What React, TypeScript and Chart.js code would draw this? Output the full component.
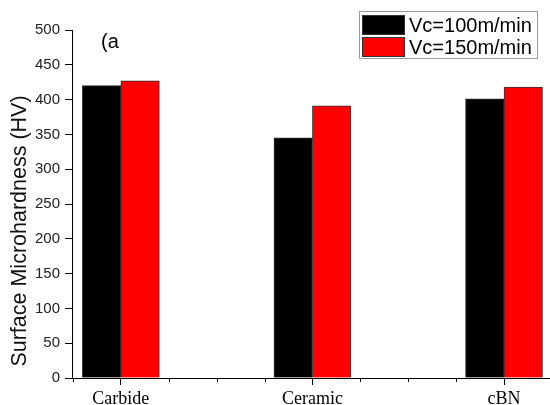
import React, { useEffect, useRef } from "react";
import { Chart, registerables } from "chart.js";

Chart.register(...registerables);

const categories = ["Carbide", "Ceramic", "cBN"];
const categoryPositions = [1, 2, 3];
const vc100 = [420, 345, 401];
const vc150 = [427, 391, 418];
const seriesLabels = ["Vc=100m/min", "Vc=150m/min"];
const seriesColors = ["#000000", "#ff0000"];
const yAxisTitle = "Surface Microhardness (HV)";
const panelLabel = "(a";

const SANS = "'Liberation Sans', Arial, sans-serif";
const SERIF = "'Liberation Serif', 'Times New Roman', serif";

const decorPlugin = {
  id: "decor",
  afterDraw(chart: any) {
    const ctx = chart.ctx;
    const xs = chart.scales.x;
    const ys = chart.scales.y;
    const area = chart.chartArea;
    ctx.save();
    // minor ticks
    ctx.strokeStyle = "#000";
    ctx.lineWidth = 1;
    ys.ticks.forEach((t: any) => {
      if (t.value % 50 !== 0) {
        const py = Math.round(ys.getPixelForValue(t.value)) + 0.5;
        ctx.beginPath();
        ctx.moveTo(area.left - 4, py);
        ctx.lineTo(area.left, py);
        ctx.stroke();
      }
    });
    xs.ticks.forEach((t: any) => {
      if (!Number.isInteger(t.value)) {
        const px = Math.round(xs.getPixelForValue(t.value)) + 0.5;
        ctx.beginPath();
        ctx.moveTo(px, area.bottom);
        ctx.lineTo(px, area.bottom + 4);
        ctx.stroke();
      }
    });
    // y axis title
    ctx.save();
    ctx.translate(20, 231);
    ctx.rotate(-Math.PI / 2);
    ctx.font = `21.5px ${SANS}`;
    ctx.fillStyle = "#111";
    ctx.textAlign = "center";
    ctx.textBaseline = "middle";
    ctx.fillText(yAxisTitle, 0, 0);
    ctx.restore();
    // panel label
    ctx.font = `20px ${SANS}`;
    ctx.fillStyle = "#000";
    ctx.textAlign = "left";
    ctx.textBaseline = "alphabetic";
    ctx.fillText(panelLabel, 101, 48);
    // legend
    const bx = 359.5, by = 11.5, bw = 178, bh = 47;
    ctx.fillStyle = "#fff";
    ctx.fillRect(bx, by, bw, bh);
    ctx.strokeStyle = "#999";
    ctx.strokeRect(bx, by, bw, bh);
    chart.data.datasets.forEach((ds: any, i: number) => {
      const sy = 15 + i * 22;
      ctx.fillStyle = ds.backgroundColor;
      ctx.fillRect(362, sy, 43, 20);
      ctx.strokeStyle = "#333";
      ctx.strokeRect(362.5, sy + 0.5, 42, 19);
      ctx.fillStyle = "#000";
      ctx.font = `20px ${SANS}`;
      ctx.textAlign = "left";
      ctx.textBaseline = "middle";
      ctx.fillText(ds.label, 409, sy + 11);
    });
    ctx.restore();
  },
};

export default function App() {
  const ref = useRef<HTMLCanvasElement | null>(null);
  useEffect(() => {
    if (!ref.current) return;
    const chart = new Chart(ref.current, {
      type: "bar",
      data: {
        datasets: [vc100, vc150].map((vals, si) => ({
          label: seriesLabels[si],
          data: vals.map((v, i) => ({ x: categoryPositions[i], y: v })),
          backgroundColor: seriesColors[si],
          borderColor: "#333",
          borderWidth: 1,
          barThickness: 38.5,
        })),
      },
      options: {
        animation: false,
        responsive: false,
        maintainAspectRatio: false,
        layout: { padding: { top: 30, right: 0, left: 0, bottom: 0 } },
        plugins: {
          legend: { display: false },
          tooltip: { enabled: false },
          title: { display: false },
        },
        scales: {
          x: {
            type: "linear",
            min: 0.745,
            max: 3.24,
            offset: false,
            afterFit: (s: any) => {
              s.height = 27;
              s.paddingRight = 0;
              s.paddingLeft = 0;
            },
            afterBuildTicks: (s: any) => {
              const arr = [];
              for (let v = 0.75; v <= 3.2401; v += 0.25) arr.push({ value: Math.round(v * 100) / 100 });
              s.ticks = arr;
            },
            ticks: {
              autoSkip: false,
              maxRotation: 0,
              minRotation: 0,
              padding: 3,
              color: "#000",
              font: { family: SERIF, size: 18 },
              callback: (v: any) => {
                const idx = categoryPositions.indexOf(Number(v));
                return idx >= 0 ? categories[idx] : "";
              },
            },
            grid: {
              display: true,
              offset: false,
              drawOnChartArea: false,
              drawTicks: true,
              tickLength: 7,
              tickColor: (c: any) =>
                c.tick && Number.isInteger(c.tick.value) ? "#000" : "rgba(0,0,0,0)",
            },
            border: { display: true, color: "#000", width: 1 },
          },
          y: {
            min: 0,
            max: 500,
            afterFit: (s: any) => {
              s.width = 72;
            },
            ticks: {
              stepSize: 25,
              padding: 5,
              color: "#222",
              font: { family: SANS, size: 15 },
              callback: (v: any) => (Number(v) % 50 === 0 ? String(v) : ""),
            },
            grid: {
              display: true,
              drawOnChartArea: false,
              drawTicks: true,
              tickLength: 7,
              tickColor: (c: any) =>
                c.tick && c.tick.value % 50 === 0 ? "#000" : "rgba(0,0,0,0)",
            },
            border: { display: true, color: "#000", width: 1 },
          },
        },
      },
      plugins: [decorPlugin],
    });
    return () => chart.destroy();
  }, []);
  return (
    <div style={{ position: "fixed", left: 0, top: 0, width: 550, height: 405, background: "#fff" }}>
      <canvas ref={ref} width={550} height={405} style={{ width: "550px", height: "405px" }} />
    </div>
  );
}
